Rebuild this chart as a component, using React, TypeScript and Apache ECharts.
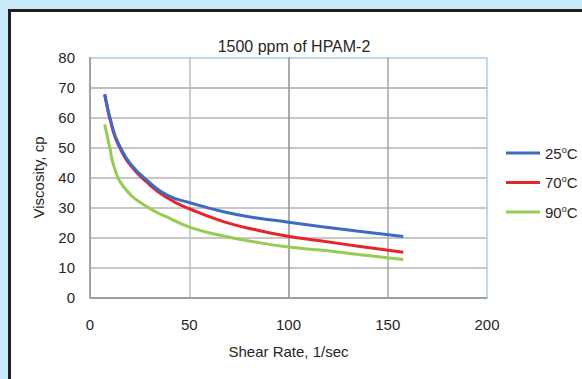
import React, { useEffect, useRef } from "react";
import * as echarts from "echarts";

const titleText = "1500 ppm of HPAM-2";
const xName = "Shear Rate, 1/sec";
const yName = "Viscosity, cp";
const seriesNames = ["25°C", "70°C", "90°C"];
const seriesColors = ["#3b6cc1", "#e6242b", "#96cc52"];

const blue25: [number, number][] = [
  [7.4, 67.8], [11.7, 55.8], [15.1, 50.3], [20.2, 44.7], [28.5, 39.2], [38.6, 34.2],
  [50.4, 31.6], [67.2, 28.6], [84, 26.5], [99.1, 25.2], [115.9, 23.7], [134.3, 22.2], [157.8, 20.3],
];
const red70: [number, number][] = [
  [7.4, 67.5], [11.7, 55.3], [15.1, 49.8], [20.2, 44.2], [28.5, 38.5], [38.6, 33.3],
  [50.4, 29.5], [67.2, 25.3], [84, 22.5], [99.1, 20.5], [115.9, 18.9], [134.3, 17.2], [157.8, 15.1],
];
const green90: [number, number][] = [
  [7.4, 57.7], [10.1, 49.5], [12, 43.8], [16.8, 37], [28.5, 30.3], [40.3, 26.4],
  [50.4, 23.4], [67.2, 20.5], [84, 18.4], [99.1, 16.9], [115.9, 15.8], [134.3, 14.4], [157.8, 12.7],
];
const seriesData = [blue25, red70, green90];

const FONT = "'Liberation Sans', Arial, sans-serif";
const TXT = "#262626";
const FS = 15;

export default function App() {
  const ref = useRef<HTMLDivElement>(null);
  useEffect(() => {
    if (!ref.current) return;
    const chart = echarts.init(ref.current, undefined, { renderer: "svg" });
    chart.setOption({
      animation: false,
      backgroundColor: "transparent",
      textStyle: { fontFamily: FONT },
      title: {
        text: titleText,
        left: 289,
        textAlign: "center",
        top: 33,
        textStyle: { fontFamily: FONT, fontSize: 16, fontWeight: "normal", color: TXT },
      },
      grid: { left: 90, top: 57.5, right: 95, bottom: 81.5, containLabel: false },
      legend: {
        orient: "vertical",
        left: 506,
        top: 145,
        padding: 0,
        icon: "rect",
        itemWidth: 34,
        itemHeight: 3,
        itemGap: 13.5,
        data: seriesNames,
        formatter: (name: string) => `{a|${name.replace("°C", "")}}{b|o}{a|C}`,
        textStyle: {
          fontFamily: FONT,
          fontSize: FS,
          lineHeight: 16,
          color: TXT,
          rich: {
            a: { fontFamily: FONT, fontSize: FS, color: TXT, lineHeight: 16 },
            b: { fontFamily: FONT, fontSize: 9, color: TXT, lineHeight: 16, verticalAlign: "top", padding: [0, 0, 6, 0] },
          },
        },
      },
      xAxis: {
        type: "value",
        min: 0,
        max: 200,
        interval: 50,
        name: xName,
        nameLocation: "middle",
        nameGap: 46,
        nameTextStyle: { fontFamily: FONT, fontSize: FS, color: TXT },
        axisLine: { show: true, lineStyle: { color: "#9a9a9a", width: 1.5 } },
        axisTick: { show: false },
        axisLabel: { margin: 19, fontSize: FS, color: TXT, fontFamily: FONT },
        splitLine: {
          show: true,
          lineStyle: { color: ["#a8a8a8", "#bdbdbd", "#8f8f8f", "#a4a4a4", "#a9cbe9"], width: 1.5 },
        },
      },
      yAxis: {
        type: "value",
        min: 0,
        max: 80,
        interval: 10,
        name: yName,
        nameLocation: "middle",
        nameGap: 44,
        nameTextStyle: { fontFamily: FONT, fontSize: FS, color: TXT },
        axisLine: { show: true, lineStyle: { color: "#9a9a9a", width: 1.5 } },
        axisTick: { show: false },
        axisLabel: { margin: 15, fontSize: FS, color: TXT, fontFamily: FONT },
        splitLine: {
          show: true,
          lineStyle: {
            color: ["#9a9a9a", "#b4b4b4", "#b4b4b4", "#b4b4b4", "#b4b4b4", "#b4b4b4", "#b4b4b4", "#a8a8a8", "#a9cbe9"],
            width: 1.5,
          },
        },
      },
      series: seriesNames.map((n, i) => ({
        name: n,
        type: "line",
        data: seriesData[i],
        smooth: true,
        symbol: "none",
        showSymbol: false,
        lineStyle: { color: seriesColors[i], width: 3 },
        itemStyle: { color: seriesColors[i] },
        z: 10 - i,
      })),
    });
    return () => chart.dispose();
  }, []);

  return (
    <div
      style={{
        position: "absolute",
        left: 0,
        top: 0,
        width: 582,
        height: 379,
        overflow: "hidden",
        background: "#c7e9f8",
      }}
    >
      <div
        style={{
          position: "absolute",
          left: 8,
          top: 9,
          width: 620,
          height: 420,
          boxSizing: "border-box",
          border: "3px solid #231f20",
          background: "#ffffff",
        }}
      />
      <div ref={ref} style={{ position: "absolute", left: 0, top: 0, width: 582, height: 379 }} />
    </div>
  );
}
